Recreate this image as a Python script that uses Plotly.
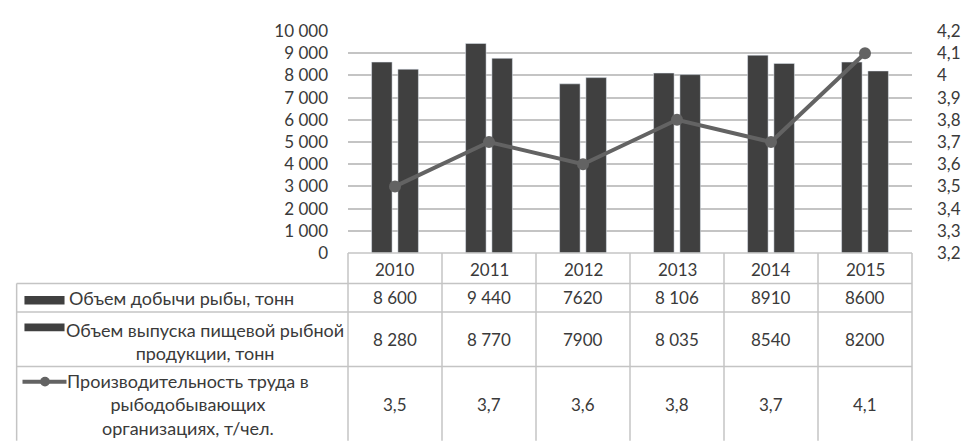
import plotly.graph_objects as go

years = ["2010", "2011", "2012", "2013", "2014", "2015"]
catch_t = [8600, 9440, 7620, 8106, 8910, 8600]
catch_txt = ["8 600", "9 440", "7620", "8 106", "8910", "8600"]
food_t = [8280, 8770, 7900, 8035, 8540, 8200]
food_txt = ["8 280", "8 770", "7900", "8 035", "8540", "8200"]
productivity = [3.5, 3.7, 3.6, 3.8, 3.7, 4.1]
prod_txt = ["3,5", "3,7", "3,6", "3,8", "3,7", "4,1"]

left_ticks = [0, 1000, 2000, 3000, 4000, 5000, 6000, 7000, 8000, 9000, 10000]
left_labels = ["0", "1 000", "2 000", "3 000", "4 000", "5 000", "6 000",
               "7 000", "8 000", "9 000", "10 000"]
right_ticks = [3.2, 3.3, 3.4, 3.5, 3.6, 3.7, 3.8, 3.9, 4.0, 4.1, 4.2]
right_labels = ["3,2", "3,3", "3,4", "3,5", "3,6", "3,7", "3,8", "3,9", "4", "4,1", "4,2"]

row_names = [
    "Объем добычи рыбы, тонн",
    "Объем выпуска пищевой рыбной<br>продукции, тонн",
    "Производительность труда в<br>рыбодобывающих<br>организациях, т/чел.",
]

# page body has an 8px margin; work in window pixels and shift
OFF = 8
WIN_W, WIN_H = 973, 445
W, H = WIN_W - OFF, WIN_H - OFF
PL, PR, PT, PB = 348, 925, 20, 253  # plot area in window pixels
L, R, T, B = PL - OFF, W - (PR - OFF), PT - OFF, H - (PB - OFF)
PW, PH = W - L - R, H - T - B
BAR = "#404040"
LINE = "#636363"
GRID = "#c4c4c4"
TXT = "#3a3a3a"
FONT = "Lato"
FS = 17
FS_LAB = 18

def px(x):
    return (x - PL) / PW

def py(y):
    return (PB - y) / PH

xs = list(range(len(years)))

fig = go.Figure()
fig.add_trace(go.Bar(x=xs, y=catch_t, marker_color=BAR, name="catch"))
fig.add_trace(go.Bar(x=xs, y=food_t, marker_color=BAR, name="food"))
fig.add_trace(go.Scatter(x=xs, y=productivity, yaxis="y2", mode="lines+markers",
                         line=dict(color=LINE, width=4),
                         marker=dict(color=LINE, size=12), name="prod"))

shapes = []
line_style = dict(color=GRID, width=1.5)
col_w = PW / len(years)
col_x = [PL + k * col_w for k in range(len(years) + 1)]
y_head_top, y_r1, y_r2, y_r3, y_bot = 253, 285, 315, 372, 450
left_x = 9
shapes.append(dict(type="line", xref="paper", yref="paper", x0=px(PL), x1=px(col_x[-1]),
                   y0=py(y_head_top), y1=py(y_head_top), line=line_style))
for yy in (y_r1, y_r2, y_r3):
    shapes.append(dict(type="line", xref="paper", yref="paper", x0=px(left_x), x1=px(col_x[-1]),
                       y0=py(yy), y1=py(yy), line=line_style))
for cx in col_x:
    shapes.append(dict(type="line", xref="paper", yref="paper", x0=px(cx), x1=px(cx),
                       y0=py(y_head_top), y1=py(y_bot), line=line_style))
shapes.append(dict(type="line", xref="paper", yref="paper", x0=px(left_x), x1=px(left_x),
                   y0=py(y_r1), y1=py(y_bot), line=line_style))
for (ya, yb) in ((298, 307), (327, 335)):
    shapes.append(dict(type="rect", xref="paper", yref="paper", x0=px(17), x1=px(58),
                       y0=py(yb), y1=py(ya), fillcolor=BAR, line=dict(width=0)))
shapes.append(dict(type="line", xref="paper", yref="paper", x0=px(15), x1=px(60),
                   y0=py(388), y1=py(388), line=dict(color=LINE, width=4)))
shapes.append(dict(type="circle", xref="paper", yref="paper", x0=px(33), x1=px(43),
                   y0=py(393), y1=py(383), fillcolor=LINE, line=dict(width=0)))

ann = []
def add_text(x, y, text, xanchor="center", size=FS):
    ann.append(dict(x=px(x), y=py(y), xref="paper", yref="paper", text=text,
                    showarrow=False, xanchor=xanchor, yanchor="middle", align="center",
                    font=dict(family=FONT, size=size, color=TXT)))

for i, yr in enumerate(years):
    cx = (col_x[i] + col_x[i + 1]) / 2
    add_text(cx, 270, yr)
    add_text(cx, 300, catch_txt[i])
    add_text(cx, 344, food_txt[i])
    add_text(cx, 412, prod_txt[i])

add_text(61, 300, row_names[0], xanchor="left", size=FS_LAB)
add_text(202, 346, row_names[1], size=FS_LAB)
add_text(184, 412, row_names[2], size=FS_LAB)

fig.update_layout(
    width=W, height=H,
    margin=dict(l=L, r=R, t=T, b=B, pad=0),
    paper_bgcolor="white", plot_bgcolor="white",
    showlegend=False,
    barmode="group", bargap=0.44, bargroupgap=0.22,
    xaxis=dict(range=[-0.5, 5.5], showticklabels=False, showgrid=False,
               zeroline=False, showline=False, fixedrange=True),
    yaxis=dict(range=[0, 10000], tickvals=left_ticks, ticktext=left_labels,
               showgrid=True, gridcolor=GRID, gridwidth=1.5, zeroline=False,
               showline=False, ticklabelstandoff=19,
               tickfont=dict(family=FONT, size=FS, color=TXT)),
    yaxis2=dict(range=[3.2, 4.2], tickvals=right_ticks, ticktext=right_labels,
                overlaying="y", side="right", showgrid=False, zeroline=False,
                showline=False, ticklabelstandoff=24,
                tickfont=dict(family=FONT, size=FS, color=TXT)),
    shapes=shapes, annotations=ann,
)

fig.write_html("out.html")
